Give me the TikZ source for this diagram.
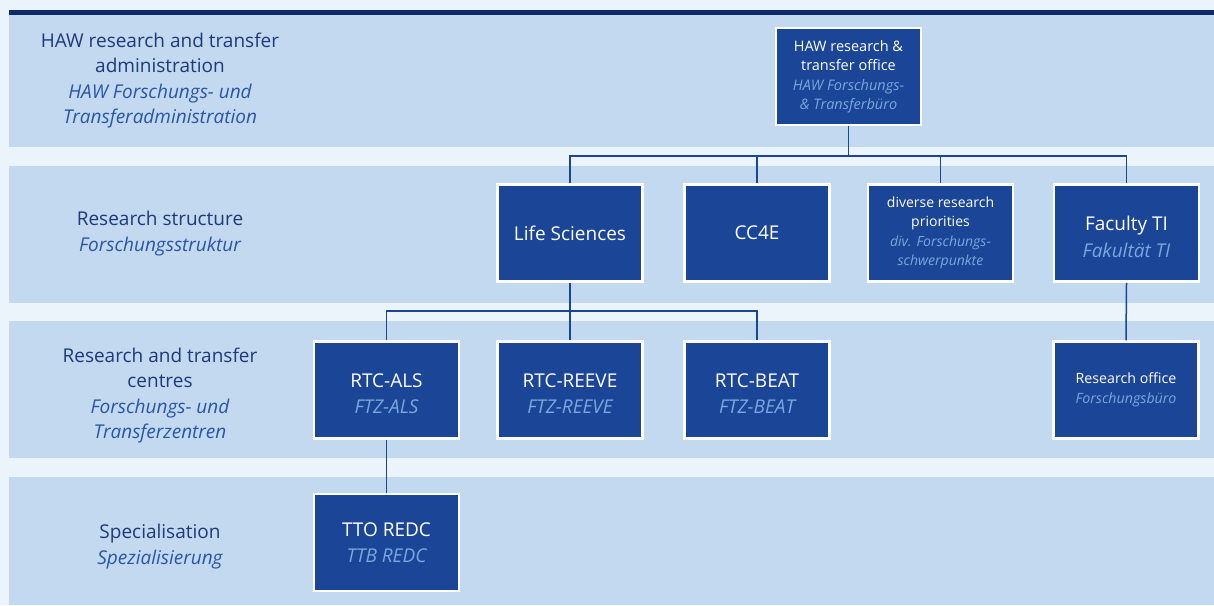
\documentclass[tikz,border=0pt]{standalone}
\usepackage{fontspec}
\setmainfont{Open Sans}
\definecolor{pagebg}{HTML}{EBF3FB}
\definecolor{band}{HTML}{C2D9EF}
\definecolor{topbar}{HTML}{0E2A6A}
\definecolor{boxfill}{HTML}{1B4596}
\definecolor{boxit}{HTML}{7DA6DE}
\definecolor{labtext}{HTML}{1E3A7A}
\definecolor{labit}{HTML}{2A55A8}
\tikzset{
  orgbox/.style={draw=white, line width=2.5pt, fill=boxfill, text=white,
    minimum width=145pt, minimum height=97pt, inner sep=2pt, align=center},
  rowlabel/.style={text=labtext, align=center, inner sep=0pt,
    font=\fontsize{19}{25.3}\selectfont},
  conn/.style={draw=boxfill, line width=1.5pt},
}
\newcommand{\bit}[1]{{\itshape\color{boxit}#1}}
\newcommand{\lit}[1]{{\itshape\color{labit}#1}}
\begin{document}
\begin{tikzpicture}[x=1pt,y=-1pt]
\useasboundingbox (0,0) rectangle (1214,605);
\fill[pagebg] (0,0) rectangle (1214,605);
% bands
\fill[band] (9,15) rectangle (1214,147);
\fill[topbar] (9,10) rectangle (1214,15);
\fill[band] (9,166) rectangle (1214,303);
\fill[band] (9,321) rectangle (1214,458);
\fill[band] (9,477) rectangle (1214,605);
% row labels
\node[rowlabel] (l1) at (160,80.5) {HAW research and transfer\\administration\\\lit{HAW Forschungs- und}\\\lit{Transferadministration}};
\node[rowlabel] (l2) at (160,233.5) {Research structure\\\lit{Forschungsstruktur}};
\node[rowlabel] (l3) at (160,395.5) {Research and transfer\\centres\\\lit{Forschungs- und}\\\lit{Transferzentren}};
\node[rowlabel] (l4) at (160,546.5) {Specialisation\\\lit{Spezialisierung}};
% boxes
\node[orgbox, font=\fontsize{14.5}{19.5}\selectfont] (top) at (848.5,76.5) {HAW research \&\\transfer office\\\bit{HAW Forschungs-}\\\bit{\& Transferbüro}};
\node[orgbox, font=\fontsize{19}{24}\selectfont] (ls) at (570,233) {Life Sciences};
\node[orgbox, font=\fontsize{19}{24}\selectfont] (cc) at (757,233) {CC4E};
\node[orgbox, font=\fontsize{14}{19.5}\selectfont] (div) at (940.5,233) {diverse research\\priorities\\\bit{div. Forschungs-}\\\bit{schwerpunkte}};
\node[orgbox, font=\fontsize{19}{27}\selectfont] (ti) at (1126.5,233) {\rule{0pt}{22pt}Faculty TI\\\bit{Fakultät TI}};
\node[orgbox, font=\fontsize{19}{26}\selectfont] (als) at (386.5,390) {\rule{0pt}{21pt}RTC-ALS\\\bit{FTZ-ALS}};
\node[orgbox, font=\fontsize{19}{26}\selectfont] (reeve) at (570,390) {\rule{0pt}{21pt}RTC-REEVE\\\bit{FTZ-REEVE}};
\node[orgbox, font=\fontsize{19}{26}\selectfont] (beat) at (757,390) {\rule{0pt}{21pt}RTC-BEAT\\\bit{FTZ-BEAT}};
\node[orgbox, font=\fontsize{14.2}{20}\selectfont] (ro) at (1126,390) {Research office\\\bit{Forschungsbüro}};
\node[orgbox, font=\fontsize{19}{26}\selectfont] (tto) at (386.5,542.5) {TTO REDC\\\bit{TTB REDC}};
% connectors
\coordinate (b1) at (848.5,156);
\coordinate (b2) at (570,311);
\draw[conn] (top.south) -- (b1);
\draw[conn] (ls.north) |- (b1) -| (ti.north);
\draw[conn] (cc.north) -- (cc.north |- b1);
\draw[conn] (div.north) -- (div.north |- b1);
\draw[conn] (ls.south) -- (b2);
\draw[conn] (als.north) |- (b2) -| (beat.north);
\draw[conn] (reeve.north) -- (b2);
\draw[conn] (ti.south) -- (ro.north);
\draw[conn] (als.south) -- (tto.north);
\end{tikzpicture}
\end{document}
